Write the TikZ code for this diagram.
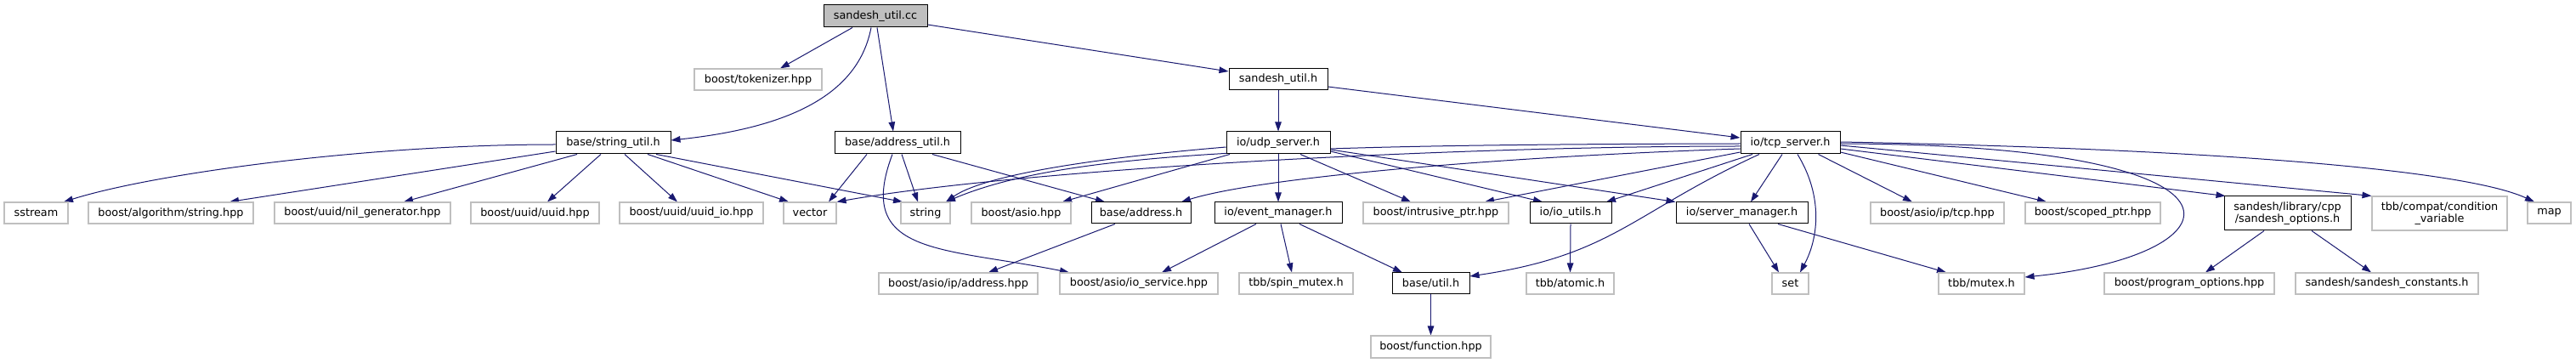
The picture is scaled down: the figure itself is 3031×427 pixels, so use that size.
\documentclass[tikz,border=0pt]{standalone}
\usepackage{fontspec}
\setmainfont{DejaVu Sans}
\usetikzlibrary{arrows.meta,backgrounds}
\definecolor{edgec}{HTML}{191970}
\definecolor{grayb}{HTML}{BFBFBF}
\tikzset{
 box/.style={draw, rectangle, inner sep=0pt, fill=white, line width=1pt, font=\fontsize{12.8}{14.3}\selectfont, align=center},
 doc/.style={box, draw=black},
 ext/.style={box, draw=grayb, line width=1.1pt},
 rootbox/.style={box, draw=black, fill=grayb},
 edge/.style={draw=edgec, line width=1pt, -{Triangle[length=11pt,width=7.5pt]}},
}
\newcommand\nd[6]{\node[#1, minimum width=#5pt, minimum height=#6pt] (#2) at (#3) {#4};}
\begin{document}
\begin{tikzpicture}[x=1pt,y=-1pt]
\path[use as bounding box] (0,0) rectangle (3031,427);
\nd{rootbox}{cc}{1030,19}{sandesh\_util.cc}{122}{26}
\nd{ext}{tok}{892,93.5}{boost/tokenizer.hpp}{150}{25}
\nd{doc}{shh}{1504,93.5}{sandesh\_util.h}{116}{25}
\nd{doc}{su}{721.5,168}{base/string\_util.h}{135}{26}
\nd{doc}{au}{1056,168}{base/address\_util.h}{148}{26}
\nd{doc}{udp}{1504,168}{io/udp\_server.h}{122}{26}
\nd{doc}{tcp}{2106.5,168}{io/tcp\_server.h}{117}{26}
\nd{ext}{sstream}{42.5,250.5}{sstream}{75}{25}
\nd{ext}{alg}{201,250.5}{boost/algorithm/string.hpp}{194}{25}
\nd{ext}{nil}{426.5,250.5}{boost/uuid/nil\_generator.hpp}{207}{25}
\nd{ext}{uuid}{629.5,250.5}{boost/uuid/uuid.hpp}{151}{25}
\nd{ext}{uuidio}{813.5,250.5}{boost/uuid/uuid\_io.hpp}{169}{25}
\nd{ext}{vector}{953,250.5}{vector}{62}{25}
\nd{ext}{string}{1089,250.5}{string}{58}{25}
\nd{ext}{asio}{1201.5,250.5}{boost/asio.hpp}{117}{25}
\nd{doc}{addr}{1342.5,250.5}{base/address.h}{117}{25}
\nd{doc}{evm}{1504,250.5}{io/event\_manager.h}{150}{25}
\nd{ext}{intr}{1689.5,250.5}{boost/intrusive\_ptr.hpp}{171}{25}
\nd{doc}{ioutils}{1848,250.5}{io/io\_utils.h}{96}{25}
\nd{doc}{srvmgr}{2049.5,250.5}{io/server\_manager.h}{155}{25}
\nd{ext}{iptcp}{2279.5,250.5}{boost/asio/ip/tcp.hpp}{157}{25}
\nd{ext}{scoped}{2462.5,250.5}{boost/scoped\_ptr.hpp}{159}{25}
\nd{doc}{sopts}{2691.5,251}{sandesh/library/cpp\\/sandesh\_options.h}{149}{40}
\nd{ext}{cond}{2870.5,251}{tbb/compat/condition\\\_variable}{159}{40}
\nd{ext}{map}{2999.5,250.5}{map}{51}{25}
\nd{ext}{ipaddr}{1127.5,333.5}{boost/asio/ip/address.hpp}{187}{25}
\nd{ext}{iosvc}{1340,333.5}{boost/asio/io\_service.hpp}{186}{25}
\nd{ext}{spin}{1525,333.5}{tbb/spin\_mutex.h}{134}{25}
\nd{doc}{util}{1683.5,333.5}{base/util.h}{91}{25}
\nd{ext}{atomic}{1847.5,333.5}{tbb/atomic.h}{103}{25}
\nd{ext}{set}{2106.5,333.5}{set}{43}{25}
\nd{ext}{mutex}{2331.5,333.5}{tbb/mutex.h}{101}{25}
\nd{ext}{popts}{2576,333.5}{boost/program\_options.hpp}{200}{25}
\nd{ext}{sconst}{2808.5,333.5}{sandesh/sandesh\_constants.h}{215}{25}
\nd{ext}{func}{1683.5,408}{boost/function.hpp}{141}{26}
\begin{scope}[on background layer]
\fill[white] (0,0) rectangle (3031,427);
\draw[edge] ([xshift=-27]cc.south) -- ([xshift=26]tok.north);
\draw[edge] ([xshift=-5]cc.south) .. controls +(-15,78) and +(141,-15) .. ([yshift=3]su.east);
\draw[edge] ([xshift=2]cc.south) -- ([xshift=-5]au.north);
\draw[edge] ([yshift=-10]cc.east) -- ([yshift=9.5]shh.west);
\draw[edge] (shh.south) -- (udp.north);
\draw[edge] ([yshift=-8.5]shh.east) -- ([yshift=6]tcp.west);
\draw[edge] ([yshift=-2]su.west) .. controls +(-224,0) and +(105,-33) .. ([xshift=32.5]sstream.north);
\draw[edge] ([yshift=-10]su.west) -- ([xshift=69]alg.north);
\draw[edge] ([xshift=-42.5]su.south) -- ([xshift=48.5]nil.north);
\draw[edge] ([xshift=-14.5]su.south) -- ([xshift=14.5]uuid.north);
\draw[edge] ([xshift=13.5]su.south) -- ([xshift=-16.5]uuidio.north);
\draw[edge] ([xshift=40.5]su.south) -- ([xshift=-25]vector.north);
\draw[edge] ([xshift=50.5]su.south) -- ([xshift=-27]string.north);
\draw[edge] ([xshift=-36]au.south) -- ([xshift=22]vector.north);
\draw[edge] ([xshift=5]au.south) -- ([xshift=-9]string.north);
\draw[edge] ([xshift=41]au.south) -- ([xshift=-42.5]addr.north);
\draw[edge] ([xshift=-6]au.south) .. controls +(-45,119) and +(-150,-30) .. ([xshift=-82]iosvc.north);
\draw[edge] ([yshift=-5]udp.west) .. controls +(-143,12) and +(47,-33) .. ([xshift=24]string.north);
\draw[edge] ([yshift=-1]tcp.west) .. controls +(-548,1) and +(137,-58) .. ([xshift=24]string.north);
\draw[edge] ([yshift=-4]tcp.west) .. controls +(-348,0) and +(216,-38) .. (vector.north east);
\draw[edge] ([yshift=-7]tcp.west) .. controls +(-298,10) and +(90,-28) .. ([xshift=47.5]addr.north);
\draw[edge] ([xshift=-57]udp.south) -- ([xshift=48.5]asio.north);
\draw[edge] (udp.south) -- (evm.north);
\draw[edge] ([xshift=26]udp.south) -- ([xshift=-29.5]intr.north);
\draw[edge] ([yshift=-10]udp.east) -- ([xshift=-33]ioutils.north);
\draw[edge] ([yshift=-8]udp.east) -- (srvmgr.north west);
\draw[edge] ([yshift=-11]tcp.west) -- ([xshift=57.5]intr.north);
\draw[edge] ([xshift=-44.5]tcp.south) -- ([xshift=42]ioutils.north);
\draw[edge] ([xshift=-9.5]tcp.south) -- ([xshift=10.5]srvmgr.north);
\draw[edge] ([xshift=-36.5]tcp.south) .. controls +(-150,69) and +(169,-25) .. ([yshift=8.5]util.east);
\draw[edge] ([xshift=8.5]tcp.south) .. controls +(30,49) and +(22,-41) .. ([xshift=11.5]set.north);
\draw[edge] ([xshift=8.5]srvmgr.south) -- ([xshift=-13.5]set.north);
\draw[edge] ([xshift=42.5]srvmgr.south) -- ([xshift=-41.5]mutex.north);
\draw[edge] ([yshift=-1]tcp.east) .. controls +(515,1) and +(258,-26) .. ([yshift=7.5]mutex.east);
\draw[edge] ([xshift=33]tcp.south) -- ([xshift=-29.5]iptcp.north);
\draw[edge] ([yshift=-11]tcp.east) -- ([xshift=-54.5]scoped.north);
\draw[edge] ([yshift=-7]tcp.east) -- ([xshift=2]sopts.north west);
\draw[edge] ([yshift=-3]tcp.east) -- (cond.north west);
\draw[edge] ([yshift=1]tcp.east) .. controls +(435,8) and +(-82,-38) .. ([xshift=-17.5]map.north);
\draw[edge] ([xshift=-30.5]addr.south) -- ([xshift=35.5]ipaddr.north);
\draw[edge] ([xshift=-26]evm.south) -- ([xshift=27]iosvc.north);
\draw[edge] ([xshift=3]evm.south) -- ([xshift=-5]spin.north);
\draw[edge] ([xshift=25]evm.south) -- ([xshift=-33.5]util.north);
\draw[edge] (ioutils.south) -- (atomic.north);
\draw[edge] (util.south) -- (func.north);
\draw[edge] ([xshift=-27.5]sopts.south) -- ([xshift=19]popts.north);
\draw[edge] ([xshift=28.5]sopts.south) -- ([xshift=-18.5]sconst.north);
\end{scope}
\end{tikzpicture}
\end{document}
